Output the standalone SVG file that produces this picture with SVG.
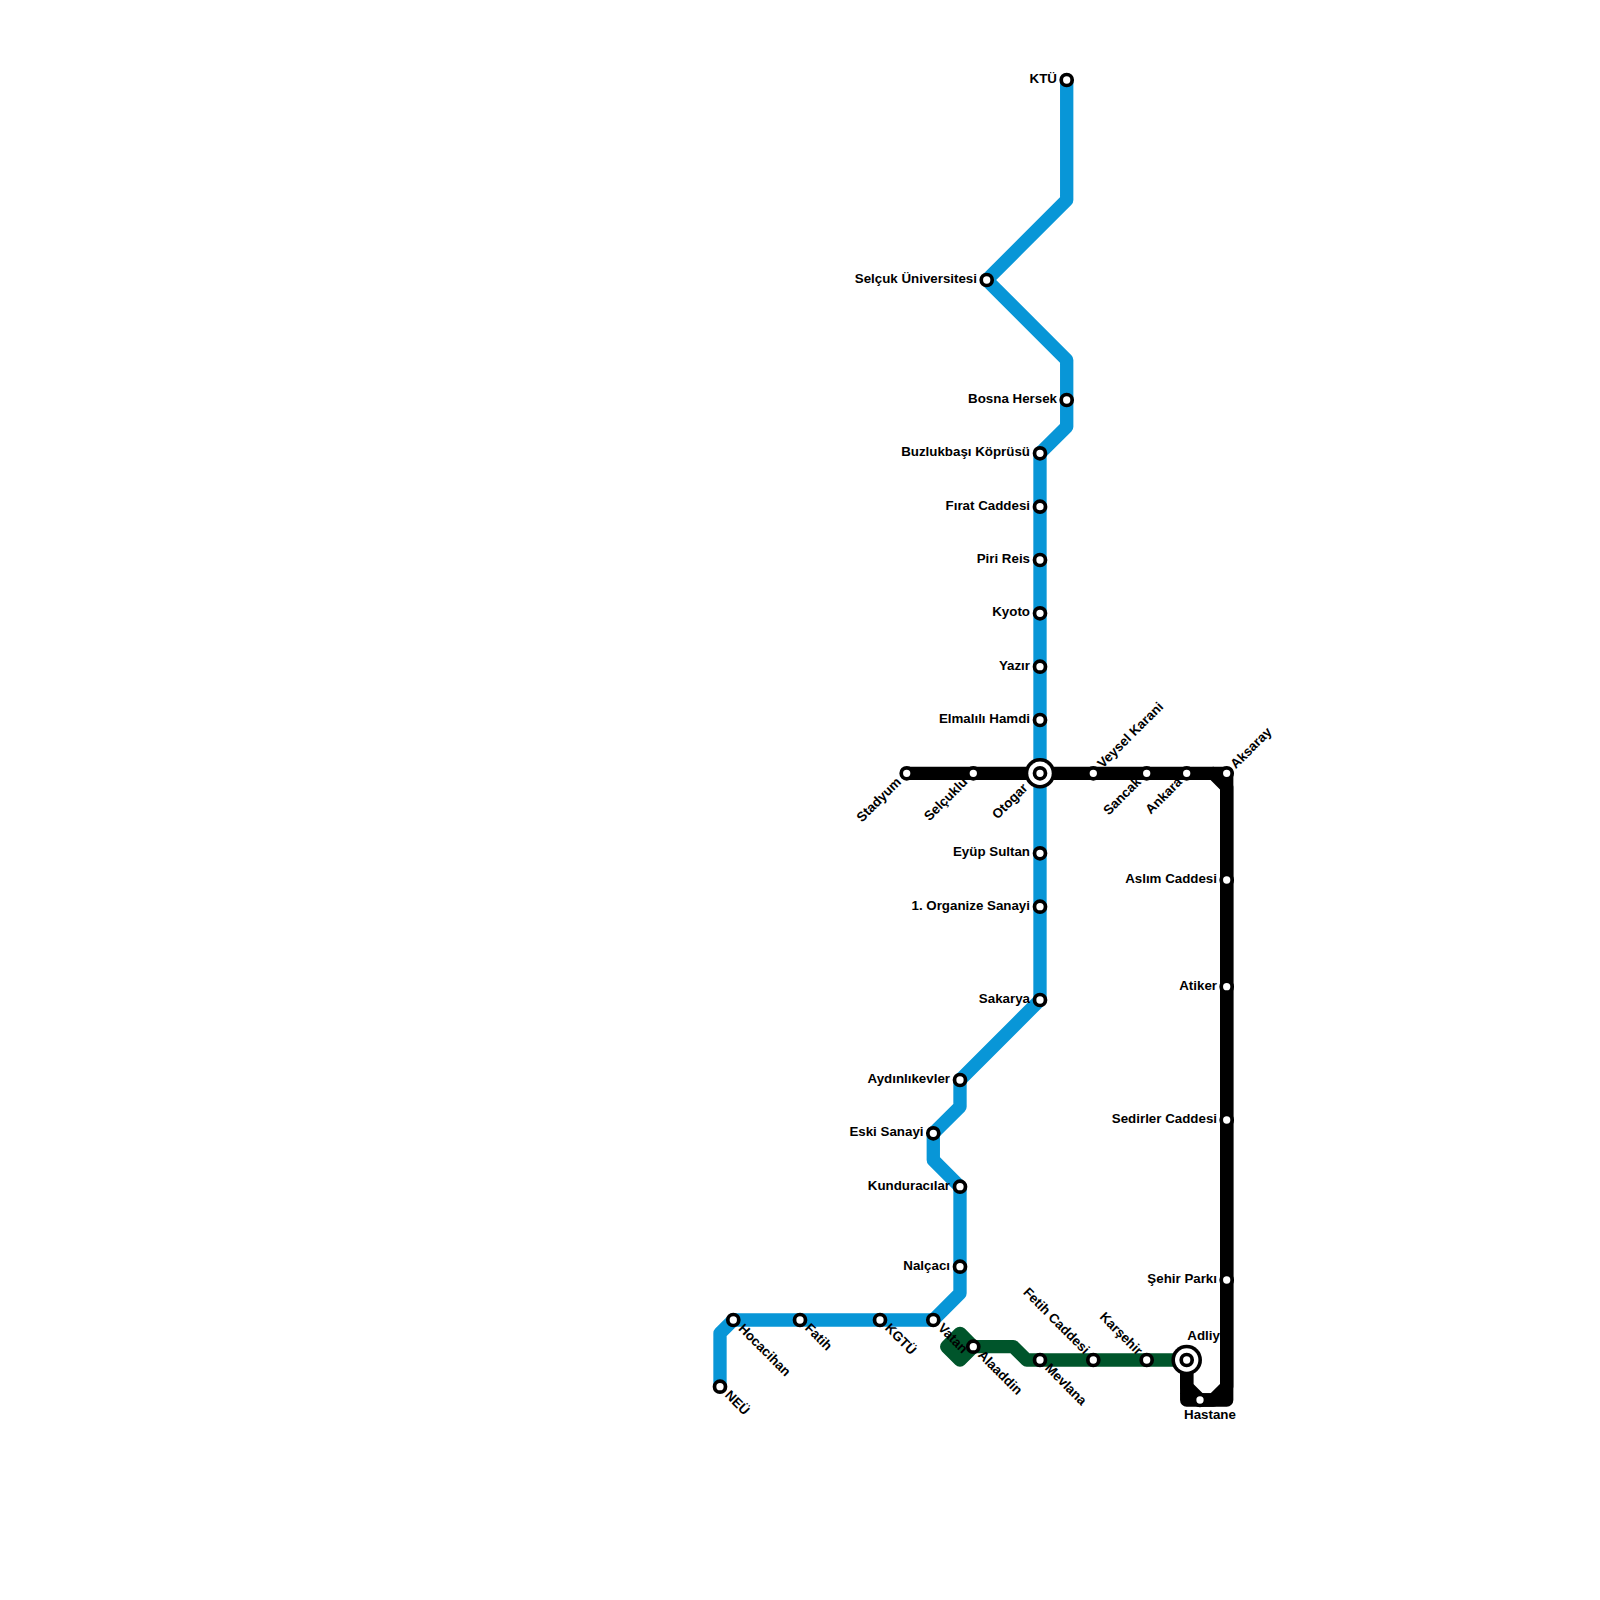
<svg xmlns="http://www.w3.org/2000/svg" width="1600" height="1600" viewBox="0 0 1600 1600">
<style>
.l{fill:none;stroke-width:13.33;stroke-linejoin:round;stroke-linecap:round}
.b{stroke:#0896d7}.k{stroke:#000}.g{stroke:#00552b}
.s{fill:#fff;stroke:#000;stroke-width:3.7}
.o{fill:#000}.w{fill:#fff}
text{font-family:"Liberation Sans",Arial,sans-serif;font-weight:700;font-size:13.33px;fill:#000}
.e{text-anchor:end}
</style>
<rect width="1600" height="1600" fill="#fff"/>
<g id="connectors">
<path class="l k" d="M1213.3 773.3L1226.7 786.7V1386.7L1213.3 1400H1200L1186.7 1386.7V1360"/>
<path class="l k" d="M1226.7 773.3V1400H1186.7V1360"/>
<path class="l b" d="M1066.7 80V200L986.7 280L1066.7 360V426.7L1040 453.3V1000L960 1080V1106.7L933.3 1133.3V1160L960 1186.7V1293.3L933.3 1320H733.3L720 1333.3V1386.7"/>
<path class="l k" d="M906.7 773.3H1026"/>
<path class="l k" d="M1054 773.3H1226.7"/>
<path class="l g" d="M973.3 1346.7L960 1333.3L946.7 1346.7L960 1360Z" style="fill:#00552b"/>
<path class="l g" d="M973.3 1346.7H1013.3L1026.7 1360H1186.7"/>
</g>
<g id="n-ktu"><circle class="s" cx="1066.7" cy="80" r="5.5"/><text class="e" x="1057" y="83">KTÜ</text></g>
<g id="n-selcuk"><circle class="s" cx="986.7" cy="280" r="5.5"/><text class="e" x="977" y="283">Selçuk Üniversitesi</text></g>
<g id="n-bosna"><circle class="s" cx="1066.7" cy="400" r="5.5"/><text class="e" x="1057" y="403">Bosna Hersek</text></g>
<g id="n-buzluk"><circle class="s" cx="1040" cy="453.3" r="5.5"/><text class="e" x="1030" y="456.3">Buzlukbaşı Köprüsü</text></g>
<g id="n-firat"><circle class="s" cx="1040" cy="506.7" r="5.5"/><text class="e" x="1030" y="509.7">Fırat Caddesi</text></g>
<g id="n-piri"><circle class="s" cx="1040" cy="560" r="5.5"/><text class="e" x="1030" y="563">Piri Reis</text></g>
<g id="n-kyoto"><circle class="s" cx="1040" cy="613.3" r="5.5"/><text class="e" x="1030" y="616.3">Kyoto</text></g>
<g id="n-yazir"><circle class="s" cx="1040" cy="666.7" r="5.5"/><text class="e" x="1030" y="669.7">Yazır</text></g>
<g id="n-elmalili"><circle class="s" cx="1040" cy="720" r="5.5"/><text class="e" x="1030" y="723">Elmalılı Hamdi</text></g>
<g id="n-eyup"><circle class="s" cx="1040" cy="853.3" r="5.5"/><text class="e" x="1030" y="856.3">Eyüp Sultan</text></g>
<g id="n-org"><circle class="s" cx="1040" cy="906.7" r="5.5"/><text class="e" x="1030" y="909.7">1. Organize Sanayi</text></g>
<g id="n-sakarya"><circle class="s" cx="1040" cy="1000" r="5.5"/><text class="e" x="1030" y="1003">Sakarya</text></g>
<g id="n-aydin"><circle class="s" cx="960" cy="1080" r="5.5"/><text class="e" x="950" y="1083">Aydınlıkevler</text></g>
<g id="n-eski"><circle class="s" cx="933.3" cy="1133.3" r="5.5"/><text class="e" x="923.5" y="1136.3">Eski Sanayi</text></g>
<g id="n-kundura"><circle class="s" cx="960" cy="1186.7" r="5.5"/><text class="e" x="950" y="1189.7">Kunduracılar</text></g>
<g id="n-nalcaci"><circle class="s" cx="960" cy="1266.7" r="5.5"/><text class="e" x="950" y="1269.7">Nalçacı</text></g>
<g id="n-vatan"><circle class="s" cx="933.3" cy="1320" r="5.5"/><text transform="translate(940 1326) rotate(45) translate(0 4)">Vatan</text></g>
<g id="n-kgtu"><circle class="s" cx="880" cy="1320" r="5.5"/><text transform="translate(887 1326) rotate(45) translate(0 4)">KGTÜ</text></g>
<g id="n-fatih"><circle class="s" cx="800" cy="1320" r="5.5"/><text transform="translate(807 1326) rotate(45) translate(0 4)">Fatih</text></g>
<g id="n-hoca"><circle class="s" cx="733.3" cy="1320" r="5.5"/><text transform="translate(740.5 1326.5) rotate(45) translate(0 4)">Hocacihan</text></g>
<g id="n-neu"><circle class="s" cx="720" cy="1386.7" r="5.5"/><text transform="translate(727 1393) rotate(45) translate(0 4)">NEÜ</text></g>
<g id="n-alaaddin"><circle class="s" cx="973.3" cy="1346.7" r="5.5"/><text transform="translate(980 1353) rotate(45) translate(0 4)">Alaaddin</text></g>
<g id="n-mevlana"><circle class="s" cx="1040" cy="1360" r="5.5"/><text transform="translate(1047 1366) rotate(45) translate(0 4)">Mevlana</text></g>
<g id="n-fetih"><circle class="s" cx="1093.3" cy="1360" r="5.5"/><text class="e" transform="translate(1087 1352) rotate(45) translate(0 4)">Fetih Caddesi</text></g>
<g id="n-karsehir"><circle class="s" cx="1146.7" cy="1360" r="5.5"/><text class="e" transform="translate(1140 1353) rotate(45) translate(0 4)">Karşehir</text></g>
<g id="n-stadyum"><circle class="s" cx="906.7" cy="773.3" r="5.5"/><text class="e" transform="translate(899 780) rotate(-45) translate(0 4)">Stadyum</text></g>
<g id="n-selcuklu"><circle class="s" cx="973.3" cy="773.3" r="5.5"/><text class="e" transform="translate(965.5 780) rotate(-45) translate(0 4)">Selçuklu</text></g>
<g id="n-otogar"><circle class="o" cx="1040" cy="773.3" r="15.3"/><circle class="w" cx="1040" cy="773.3" r="11.7"/><circle class="s" cx="1040" cy="773.3" r="5.5"/><text class="e" transform="translate(1025.5 786) rotate(-45) translate(0 4)">Otogar</text></g>
<g id="n-veysel"><circle class="s" cx="1093.3" cy="773.3" r="5.5"/><text transform="translate(1100 766) rotate(-45) translate(0 4)">Veysel Karani</text></g>
<g id="n-sancak"><circle class="s" cx="1146.7" cy="773.3" r="5.5"/><text class="e" transform="translate(1139 780) rotate(-45) translate(0 4)">Sancak</text></g>
<g id="n-ankara"><circle class="s" cx="1186.7" cy="773.3" r="5.5"/><text class="e" transform="translate(1180 780) rotate(-45) translate(0 4)">Ankara</text></g>
<g id="n-aksaray"><circle class="s" cx="1226.7" cy="773.3" r="5.5"/><text transform="translate(1233 766.5) rotate(-45) translate(0 4)">Aksaray</text></g>
<g id="n-aslim"><circle class="s" cx="1226.7" cy="880" r="5.5"/><text class="e" x="1217" y="883">Aslım Caddesi</text></g>
<g id="n-atiker"><circle class="s" cx="1226.7" cy="986.7" r="5.5"/><text class="e" x="1217" y="989.7">Atiker</text></g>
<g id="n-sedirler"><circle class="s" cx="1226.7" cy="1120" r="5.5"/><text class="e" x="1217" y="1123">Sedirler Caddesi</text></g>
<g id="n-sehir"><circle class="s" cx="1226.7" cy="1280" r="5.5"/><text class="e" x="1217" y="1283">Şehir Parkı</text></g>
<g id="n-adliye"><circle class="o" cx="1186.7" cy="1360" r="15.3"/><circle class="w" cx="1186.7" cy="1360" r="11.7"/><circle class="s" cx="1186.7" cy="1360" r="5.5"/><text x="1187.3" y="1340">Adliye</text></g>
<g id="n-hastane"><circle class="s" cx="1200" cy="1400" r="5.5"/><text x="1184" y="1419">Hastane</text></g>
</svg>
